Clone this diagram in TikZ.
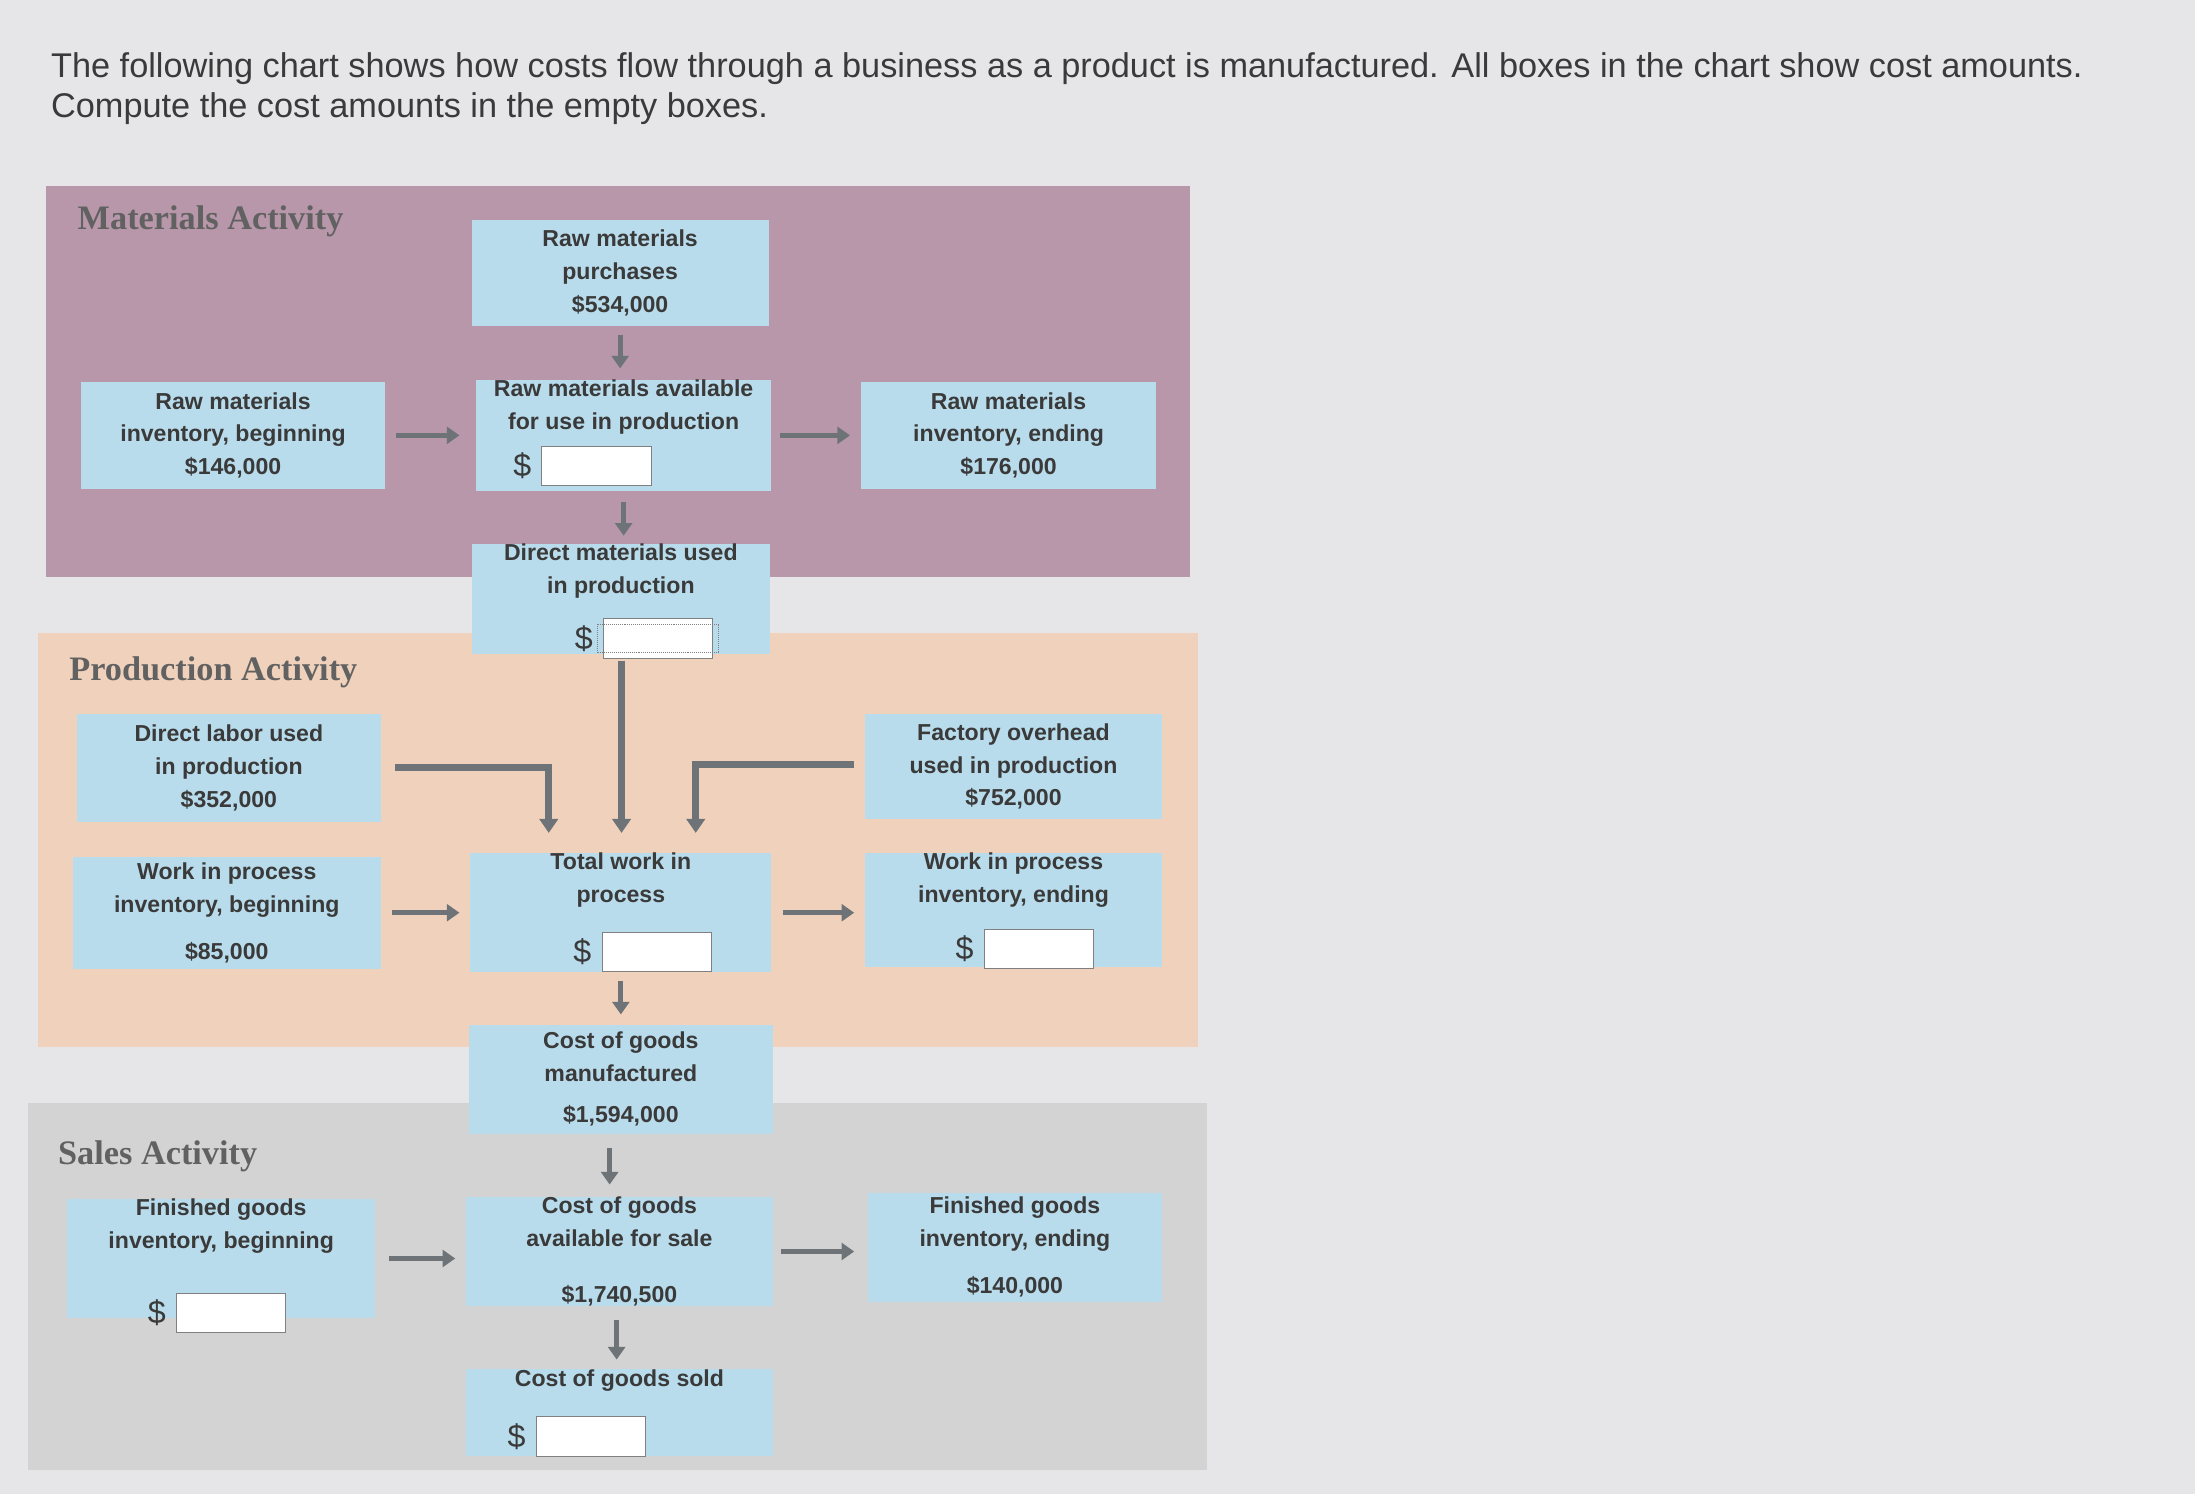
\documentclass[tikz,border=0pt]{standalone}
\usepackage{fontspec}
\setmainfont{Liberation Sans}
\newfontfamily\headf{Liberation Serif}
\usetikzlibrary{arrows.meta}
\definecolor{bg}{HTML}{E6E6E8}
\definecolor{mat}{HTML}{B897AA}
\definecolor{prod}{HTML}{F0D2BC}
\definecolor{sal}{HTML}{D3D3D3}
\definecolor{bx}{HTML}{B9DCEC}
\definecolor{tx}{HTML}{3A3A3A}
\definecolor{arr}{HTML}{6E7378}
\tikzset{
 box/.style={fill=bx,text=tx,font=\bfseries\fontsize{16.5}{23.5}\selectfont,align=center,inner sep=0pt},
 inbox/.style={draw=gray,fill=white,minimum width=78pt,minimum height=28pt,inner sep=0pt},
 head/.style={font=\headf\bfseries\fontsize{24.5}{28}\selectfont,text=black!62,anchor=west},
 ar/.style={draw=arr,line width=3.5pt,-{Triangle[length=9pt,width=12pt]}},
 ln/.style={draw=arr,line width=5pt,line join=miter,-{Triangle[length=10pt,width=13pt]}}
}
\begin{document}
\begin{tikzpicture}[x=1pt,y=-1pt]
\fill[bg] (0,0) rectangle (1568,1067);
\node[anchor=north west,align=left,text=tx,font=\fontsize{24.5}{29}\selectfont] (q) at (33,34) {The following chart shows how costs flow through a business as a product is manufactured. All boxes in the chart show cost amounts.\\Compute the cost amounts in the empty boxes.};
\fill[mat] (33,133) rectangle (850,412);
\fill[prod] (27,452) rectangle (856,748);
\fill[sal] (20,788) rectangle (862,1050);
\node[head] (h1) at (52,158) {Materials Activity};
\node[head] (h2) at (46,480) {Production Activity};
\node[head] (h3) at (38,826) {Sales Activity};
% boxes
\newcommand{\bx}[6]{\node[box,minimum width=#4-#2,minimum height=#5-#3] (#1) at ({(#2+#4)/2},{(#3+#5)/2}) {#6};}
\bx{rmp}{337}{157}{549}{233}{Raw materials\\purchases\\\$534,000}
\bx{rmb}{58}{273}{275}{349}{Raw materials\\inventory, beginning\\\$146,000}
\bx{rma}{340}{273}{551}{349}{Raw materials available\\for use in production\\[20pt]}
\bx{rme}{615}{273}{826}{349}{Raw materials\\inventory, ending\\\$176,000}
\bx{dmu}{337}{390}{550}{466}{Direct materials used\\in production\\[20pt]}
\bx{dl}{55}{510}{272}{587}{Direct labor used\\in production\\\$352,000}
\bx{foh}{618}{510}{830}{585}{Factory overhead\\used in production\\\$752,000}
\bx{wb}{52}{612}{272}{692}{Work in process\\inventory, beginning\\[10pt]\$85,000}
\bx{tw}{336}{612}{551}{692}{Total work in\\process\\[26pt]}
\bx{we}{618}{612}{830}{688}{Work in process\\inventory, ending\\[22pt]}
\bx{cgm}{335}{732}{552}{810}{Cost of goods\\manufactured\\[6pt]\$1,594,000}
\bx{fgb}{48}{860}{268}{938}{Finished goods\\inventory, beginning\\[26pt]}
\bx{cga}{333}{855}{552}{933}{Cost of goods\\available for sale\\[16pt]\$1,740,500}
\bx{fge}{620}{852}{830}{930}{Finished goods\\inventory, ending\\[10pt]\$140,000}
\bx{cgs}{333}{978}{552}{1040}{Cost of goods sold\\[26pt]}
% input fields
\newcommand{\inp}[3]{\node[inbox] (#1) at (#2,#3) {}; \node[text=tx,font=\fontsize{23}{23}\selectfont,anchor=east] at (#1.west) {\$\,};}
\inp{i1}{426}{333}
\inp{i2}{470}{456}
\inp{i3}{469}{680}
\inp{i4}{742}{678}
\inp{i5}{165}{938}
\inp{i6}{422}{1026}
\draw[densely dotted,gray] ([xshift=-4pt,yshift=-4pt]i2.north west) rectangle ([xshift=4pt,yshift=4pt]i2.south east);
% arrows
\draw[ar] (rmp.south) ++(0,6) -- ++(0,24);
\draw[ar] (rmb.east) ++(8,0) -- ++(45,0);
\draw[ar] (rma.east) ++(6,0) -- ++(50,0);
\draw[ar] (rma.south) ++(0,8) -- ++(0,24);
\draw[ar] (wb.east) ++(8,0) -- ++(48,0);
\draw[ar] (tw.east) ++(8,0) -- ++(51,0);
\draw[ar] (tw.south) ++(0,6) -- ++(0,24);
\draw[ar] (cgm.south) ++(-8,10) -- ++(0,26);
\draw[ar] (fgb.east) ++(10,0) -- ++(47,0);
\draw[ar] (cga.east) ++(6,0) -- ++(52,0);
\draw[ar] (cga.south) ++(-2,10) -- ++(0,28);
% merge lines
\draw[ln] ([xshift=10pt]dl.east |- 0,548) -- (392,548) -- (392,595);
\draw[ln] (444,472) -- (444,595);
\draw[ln] ([xshift=-8pt]foh.west |- 0,546) -- (497,546) -- (497,595);
\end{tikzpicture}
\end{document}
